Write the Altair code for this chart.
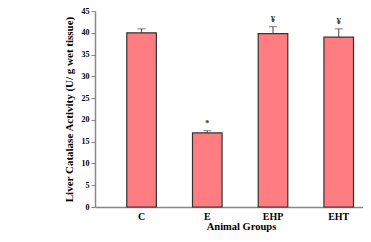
import altair as alt
import pandas as pd

groups = ["C", "E", "EHP", "EHT"]
values = [40.0, 17.0, 39.8, 39.0]
errors = [0.9, 0.5, 1.6, 1.9]
marks = ["", "*", "¥", "¥"]

df = pd.DataFrame({"group": groups, "value": values, "err": errors, "mark": marks})
df["top"] = df["value"] + df["err"]

FONT = "Liberation Serif"

x = alt.X("group:N", sort=groups,
          scale=alt.Scale(paddingInner=0.55, paddingOuter=0.314, align=0.77),
          axis=alt.Axis(title="Animal Groups", labelAngle=0, ticks=False,
                        labelFont=FONT, labelFontWeight="bold", labelFontSize=10,
                        labelPadding=4, labelColor="black",
                        titleFont=FONT, titleFontWeight="bold", titleFontSize=10.5,
                        titlePadding=0, titleColor="black", titleX=146,
                        domainColor="#888888", domainWidth=1.5))
yscale = alt.Scale(domain=[0, 45], nice=False)
yaxis = alt.Axis(title="Liver Catalase Activity (U/ g wet tissue)",
                 values=[0, 5, 10, 15, 20, 25, 30, 35, 40, 45], grid=False,
                 labelOverlap=False, tickCount=10,
                 labelFont=FONT, labelFontWeight="bold", labelFontSize=8,
                 labelColor="black", labelPadding=2,
                 tickSize=4, tickColor="#888888", domainColor="#888888",
                 domainWidth=1.5,
                 titleFont=FONT, titleFontWeight="bold", titleFontSize=11,
                 titleColor="black", titlePadding=7)
y = alt.Y("value:Q", scale=yscale, axis=yaxis)
ytop = alt.Y("top:Q", scale=yscale, axis=yaxis)

base = alt.Chart(df)
bars = base.mark_bar(color="#FF7C80", stroke="#333333", strokeWidth=1.2).encode(x=x, y=y)
rules = base.mark_rule(color="#444444", strokeWidth=1).encode(x=x, y=y, y2="top:Q")
caps = base.mark_tick(color="#444444", size=8, thickness=1, orient="horizontal").encode(x=x, y=ytop)
labels = base.mark_text(font=FONT, fontWeight="bold", fontSize=9, dy=-3,
                        baseline="bottom", color="#333333").encode(x=x, y=ytop, text="mark:N")

chart = alt.layer(bars, rules, caps, labels).properties(
    width=268, height=196,
    autosize=alt.AutoSizeParams(type="none"),
    padding={"left": 87, "top": 3, "right": 0, "bottom": 27},
).configure_view(stroke=None)

chart.save("out.html", embed_options={"renderer": "svg", "actions": False})
